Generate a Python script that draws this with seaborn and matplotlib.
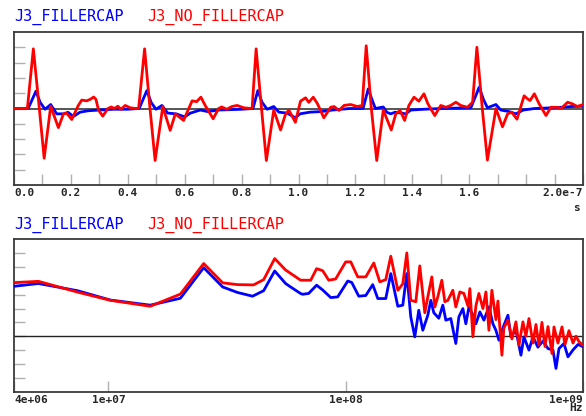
import numpy as np
import pandas as pd
import matplotlib
matplotlib.use("Agg")
import matplotlib.pyplot as plt
import seaborn as sns
from matplotlib.ticker import FixedLocator, LogLocator, NullFormatter

# --- time domain (ns) ---
t_red = [0, 4.7, 6.8, 8.9, 10.6, 12.9, 15.6, 17.4, 18.5, 20.3, 22.6, 23.8, 25.5, 26.8, 28.0, 28.8,
         29.7, 31.2, 33.0, 34.2, 35.3, 36.5, 37.6, 39.1, 40.8, 42.6, 43.8, 45.9, 47.8, 49.6, 52.3,
         54.9, 56.7, 59.6, 62.6, 64.2, 65.7, 67.2, 70.0, 71.9, 73.0, 74.8, 76.6, 78.4, 80.7, 83.1,
         83.7, 85.1, 87.0, 88.7, 91.3, 93.7, 95.4, 96.6, 98.9, 100.7, 102.5, 103.6, 105.2, 106.7,
         108.9, 111.3, 112.5, 114.2, 116.0, 118.3, 120.7, 122.4, 123.8, 125.6, 127.5, 129.8, 132.6,
         134.2, 135.7, 137.3, 138.8, 140.6, 142.3, 144.1, 145.5, 147.9, 150.0, 151.8, 153.5, 155.3,
         157.0, 159.4, 161.2, 162.7, 164.6, 166.4, 169.4, 171.7, 173.5, 174.9, 176.8, 179.3, 180.5,
         181.4, 182.9, 184.6, 187.0, 188.7, 191.0, 192.3, 194.6, 196.3, 198.0, 200.0]
v_red = [0, 0, 3.9, 0, -3.25, 0.15, -1.25, -0.35, -0.3, -0.72, 0.2, 0.55, 0.5, 0.6, 0.75, 0.6,
         -0.1, -0.5, 0.0, 0.1, 0.0, 0.15, -0.05, 0.2, 0.05, 0.0, 0.0, 3.9, 0, -3.4, 0.13,
         -1.43, -0.35, -0.78, 0.5, 0.45, 0.74, 0.2, -0.67, 0.0, 0.1, -0.05, 0.13, 0.2, 0.05, 0.0,
         0.05, 3.9, 0, -3.4, -0.1, -1.4, -0.39, -0.1, -0.9, 0.48, 0.7, 0.4, 0.74, 0.3,
         -0.61, 0.08, 0.13, -0.13, 0.2, 0.26, 0.13, 0.2, 4.1, 0, -3.4, -0.1, -1.4,
         -0.35, -0.13, -0.78, 0.2, 0.74, 0.48, 0.96, 0.3, -0.46, 0.2, 0.08, 0.2, 0.41,
         0.2, 0.08, 0.41, 4.0, 0, -3.37, 0.0, -1.2, -0.35, -0.24, -0.7, 0.83, 0.63,
         0.52, 0.96, 0.3, -0.46, 0.08, 0.08, 0.0, 0.41, 0.3, 0.13, 0.26]

t_blue = [0, 5.0, 7.7, 9.2, 10.9, 12.9, 15.0, 17.4, 19.0, 20.9, 23.2, 26.0, 30.0, 35.0, 40.0, 44.0,
          46.7, 48.2, 49.9, 52.0, 54.0, 57.0, 60.0, 62.0, 65.5, 68.0, 72.0, 80.0, 84.0,
          85.7, 87.2, 89.0, 91.3, 93.1, 96.0, 98.9, 100.5, 104.0, 108.0, 112.0, 118.0, 122.7,
          124.5, 125.8, 127.0, 129.8, 131.0, 132.4, 134.0, 137.7, 139.5, 144.0, 150.0, 160.6,
          163.5, 165.0, 166.4, 169.4, 171.1, 174.0, 176.4, 179.0, 183.0, 190.0, 196.0, 200.0]
v_blue = [0, 0, 1.13, 0.4, -0.05, 0.26, -0.35, -0.35, -0.25, -0.52, -0.24, -0.15, -0.1, -0.05, -0.05, 0.0,
          1.17, 0.4, -0.05, 0.2, -0.3, -0.35, -0.55, -0.3, -0.1, -0.2, -0.1, -0.05, 0.0,
          1.17, 0.4, -0.05, 0.13, -0.24, -0.3, -0.61, -0.35, -0.24, -0.2, -0.1, 0.0, 0.0,
          1.28, 0.6, 0.0, 0.1, -0.24, -0.35, -0.24, -0.35, -0.1, -0.05, 0.0, 0.05,
          1.39, 0.6, 0.05, 0.26, -0.1, -0.2, -0.35, -0.1, 0.0, 0.05, 0.13, 0.15]

# --- frequency domain (MHz) ---
f_red = [4.0, 5.07, 7.40, 10.2, 15.0, 20.1, 25.2, 30.3, 35.0, 40.9, 45.1, 50.2, 55.8, 64.6, 71.2,
         75.4, 80.0, 84.8, 90.7, 100, 105, 112.4, 121.5, 131.3, 139.2, 147.5, 154.9, 165.8, 174,
         180.9, 188, 197.4, 205.2, 215.4, 221.8, 230.6, 237.4, 244.4, 254.1, 261.6, 269.4, 282.8,
         291.1, 302.7, 314.7, 327.2, 333.6, 343.5, 353.7, 364.1, 378.6, 389.8, 401.3, 413, 429.5,
         437.9, 455.2, 464.2, 482.6, 501.7, 521.6, 537, 558.3, 574.8, 591.8, 615.2, 633.4, 652.1,
         671.4, 691.3, 711.8, 740, 754.5, 784.4, 815.4, 839.6, 872.8, 907.5, 934.3, 961.8, 1000]
m_red = [3.88, 3.98, 3.2, 2.6, 2.17, 3.05, 5.27, 3.87, 3.74, 3.72, 4.1, 5.63, 4.8, 4.06, 4.06,
         4.9, 4.75, 4.06, 4.15, 5.39, 5.39, 4.3, 4.3, 5.31, 3.94, 4.1, 5.8, 3.33, 3.8,
         6.04, 2.6, 2.5, 5.1, 1.7, 2.85, 4.3, 2.12, 2.85, 4.06, 2.5, 2.6, 3.33,
         2.12, 3.21, 3.1, 2.2, 3.45, -0.05, 2.2, 3.1, 2.0, 3.21, 0.43, 3.33, 1.2,
         2.55, -1.38, 0.6, 1.16, -0.2, 1.04, -0.65, 1.04, 0.0, 1.28, -0.5, 0.85, -0.65,
         1.0, -0.75, 0.7, -1.26, 0.67, -0.5, 0.67, -0.6, 0.4, -0.5, 0.0, -0.4, -0.65]

f_blue = [4.0, 5.07, 7.40, 10.2, 15.0, 20.1, 25.2, 30.3, 35.0, 40.5, 45.1, 50.2, 55.8, 58.6, 64.6,
          65.9, 69.8, 75.4, 80.0, 86.5, 92.5, 102, 106, 113.5, 121.5, 130, 136.5, 147.5, 154.9,
          165.8, 174, 180.9, 188, 195.5, 203.2, 211.3, 221.8, 228.4, 235.1, 246.8, 256.6, 264.2,
          277.3, 291.1, 299.8, 311.7, 320.9, 330.4, 346.9, 353.7, 367.7, 382.3, 401.3, 417.1,
          429.5, 442.2, 459.6, 482.6, 496.9, 521.6, 547.6, 563.8, 591.8, 615.2, 645.8, 678,
          711.8, 747.2, 769.3, 792, 831.4, 864.3, 907.5, 952.6, 1000]
m_blue = [3.62, 3.82, 3.3, 2.62, 2.25, 2.75, 4.97, 3.57, 3.17, 2.9, 3.3, 4.73, 3.82, 3.57, 3.09,
          3.04, 3.1, 3.7, 3.35, 2.8, 2.85, 4.0, 3.9, 2.9, 2.95, 3.74, 2.73, 2.73, 4.54,
          2.17, 2.25, 4.54, 1.4, -0.05, 1.88, 0.43, 1.52, 2.6, 1.7, 1.3, 2.25, 1.16,
          1.28, -0.53, 1.4, 2.0, 0.9, 2.1, 1.4, 0.9, 1.76, 1.16, 2.12, 0.9,
          0.43, -0.29, 0.6, 1.52, -0.05, 0.43, -1.38, -0.05, -1.01, -0.05, -0.8, -0.35,
          -0.9, -1.0, -2.34, -0.9, -0.53, -1.5, -1.0, -0.6, -0.77]

time_ticks = np.arange(0, 201, 10)
time_labels = ["0.0", "", "0.2", "", "0.4", "", "0.6", "", "0.8", "", "1.0", "", "1.2", "",
               "1.4", "", "1.6", "", "", "", "2.0e-7"]
freq_ticks = [4e6, 1e7, 1e8, 1e9]
freq_labels = ["4e+06", "1e+07", "1e+08", "1e+09\nHz"]  # unit sits under the last label

BLUE = "#0000ff"
RED = "#ff0000"

sns.set_style("white")
plt.rcParams["font.family"] = ["DejaVu Sans Mono", "DejaVu Sans"]

fig = plt.figure(figsize=(5.86, 4.16), dpi=100)
W, H = 586, 416
ax1 = fig.add_axes([14 / W, 1 - 185 / H, 569 / W, 153 / H])
ax2 = fig.add_axes([14 / W, 1 - 392 / H, 569 / W, 153 / H])

td_b = pd.DataFrame({"t": t_blue, "v": v_blue})
td_r = pd.DataFrame({"t": t_red, "v": v_red})
fd_b = pd.DataFrame({"f": np.array(f_blue) * 1e6, "m": m_blue})
fd_r = pd.DataFrame({"f": np.array(f_red) * 1e6, "m": m_red})

ax1.axhline(0, color="#555555", lw=1.4, zorder=1)
sns.lineplot(data=td_b, x="t", y="v", ax=ax1, color=BLUE, lw=2.0, estimator=None, zorder=3)
sns.lineplot(data=td_r, x="t", y="v", ax=ax1, color=RED, lw=2.0, estimator=None, zorder=4)
ax1.set_xlim(0, 200)
ax1.set_ylim(-5, 5)
ax1.xaxis.set_major_locator(FixedLocator(time_ticks))
ax1.set_xticklabels(time_labels)
ax1.set_yticks(np.arange(-4, 5))

ax2.axhline(0, color="#222222", lw=1.0, zorder=1)
sns.lineplot(data=fd_b, x="f", y="m", ax=ax2, color=BLUE, lw=2.0, estimator=None, zorder=3)
sns.lineplot(data=fd_r, x="f", y="m", ax=ax2, color=RED, lw=2.0, estimator=None, zorder=4)
ax2.set_xscale("log")
ax2.set_xlim(4e6, 1.0e9)
ax2.set_ylim(-4.05, 7.05)
ax2.set_xticks(freq_ticks)
ax2.set_xticklabels(freq_labels)
ax2.xaxis.set_minor_locator(LogLocator(base=10, subs=np.arange(2, 10)))
ax2.xaxis.set_minor_formatter(NullFormatter())
ax2.set_yticks(np.arange(-3, 7))

for ax in (ax1, ax2):
    ax.set_xlabel("")
    ax.set_ylabel("")
    ax.set_yticklabels([])
    for s in ax.spines.values():
        s.set_color("#3a3a3a")
        s.set_linewidth(1.3)
    ax.tick_params(axis="both", which="major", direction="in", length=8, width=1,
                   color="#b0b0b0", labelsize=8, pad=2)
    ax.tick_params(axis="x", which="minor", direction="in", length=5, width=1, color="#b0b0b0")
    ax.tick_params(left=True, bottom=True)
    labs = ax.get_xticklabels()
    for lab in labs:
        lab.set_fontweight("bold")
    labs[0].set_ha("left")
    labs[-1].set_ha("right")
    labs[-1].set_multialignment("right")
    labs[-1].set_linespacing(0.8)

# legend-style titles
for ytop in (17, 225):
    fig.text(14 / W, 1 - ytop / H, "J3_FILLERCAP", color=BLUE, fontsize=11, va="center")
    fig.text(147 / W, 1 - ytop / H, "J3_NO_FILLERCAP", color=RED, fontsize=11, va="center")

fig.text(577 / W, 1 - 208 / H, "s", fontsize=8, fontweight="bold", ha="center", va="center")

fig.savefig("out.png", dpi=100)
